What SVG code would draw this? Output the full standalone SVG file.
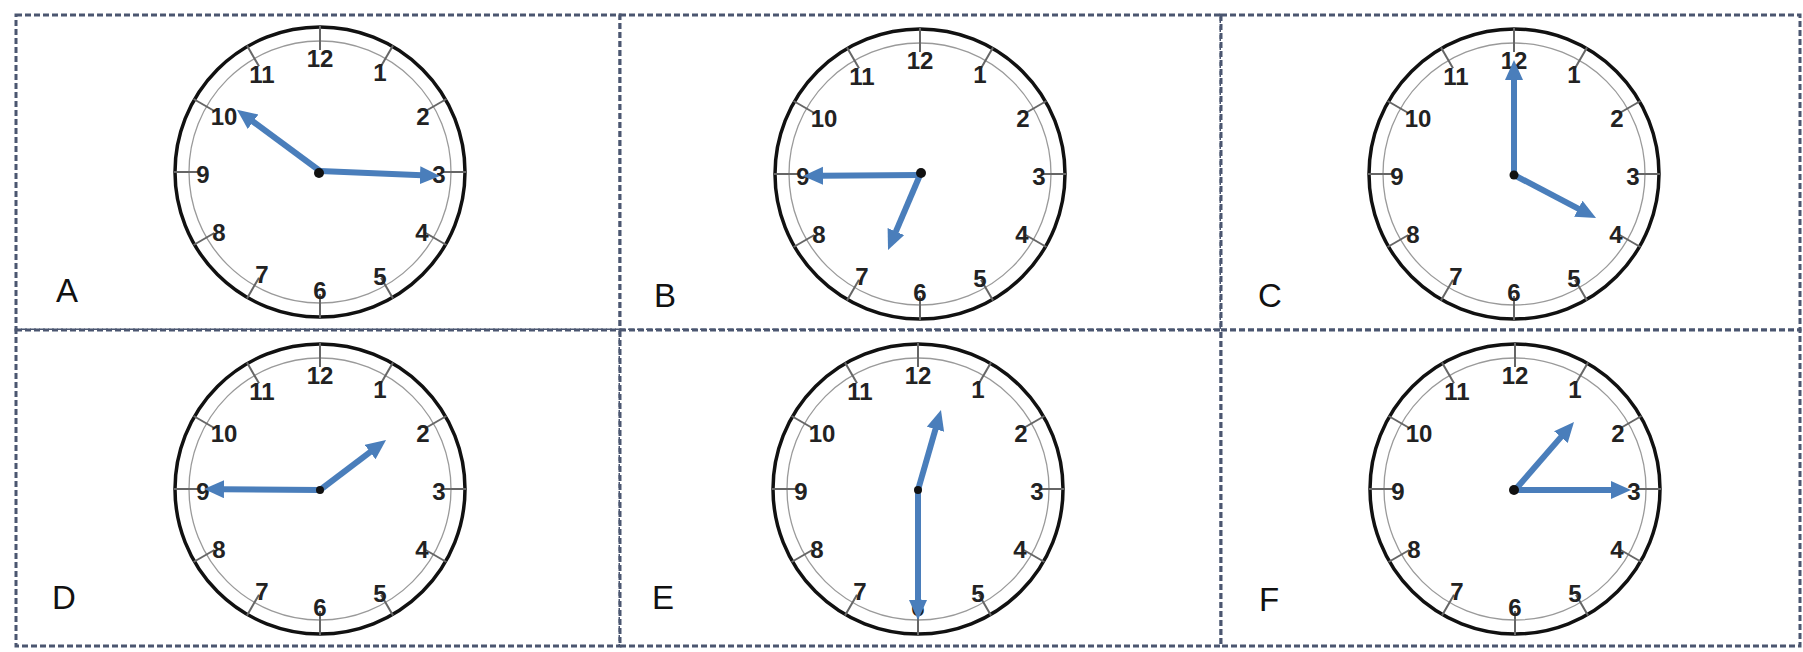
<svg xmlns="http://www.w3.org/2000/svg" xmlns:xlink="http://www.w3.org/1999/xlink" width="1803" height="652" viewBox="0 0 1803 652">
<style>
.panel{fill:#ffffff;stroke:#4b5670;stroke-width:3;stroke-dasharray:6 3}
.outer{fill:#ffffff;stroke:#111111;stroke-width:3.5}
.inner{fill:none;stroke:#9a9a9a;stroke-width:1.3}
.tick{stroke:#666666;stroke-width:2}
.num{font-family:"Liberation Sans",Arial,sans-serif;font-weight:bold;font-size:24px;fill:#222222;text-anchor:middle;dominant-baseline:central}
.lbl{font-family:"Liberation Sans",Arial,sans-serif;font-size:33px;fill:#111111}
.hand{stroke:#4a7ebb;stroke-width:6;fill:none;stroke-linecap:butt}
.pin{fill:#111111}
</style>
<defs>
<marker id="ah" markerUnits="userSpaceOnUse" markerWidth="22" markerHeight="20" refX="2" refY="9" orient="auto">
<path d="M0,0 L20,9 L0,18 z" fill="#4a7ebb"/>
</marker>
<g id="face">
<circle class="outer" r="145"/>
<circle class="inner" r="131"/>
<g class="tick">
<line x1="0" y1="-122" x2="0" y2="-146"/>
<line x1="0" y1="-122" x2="0" y2="-146" transform="rotate(30)"/>
<line x1="0" y1="-122" x2="0" y2="-146" transform="rotate(60)"/>
<line x1="0" y1="-122" x2="0" y2="-146" transform="rotate(90)"/>
<line x1="0" y1="-122" x2="0" y2="-146" transform="rotate(120)"/>
<line x1="0" y1="-122" x2="0" y2="-146" transform="rotate(150)"/>
<line x1="0" y1="-122" x2="0" y2="-146" transform="rotate(180)"/>
<line x1="0" y1="-122" x2="0" y2="-146" transform="rotate(210)"/>
<line x1="0" y1="-122" x2="0" y2="-146" transform="rotate(240)"/>
<line x1="0" y1="-122" x2="0" y2="-146" transform="rotate(270)"/>
<line x1="0" y1="-122" x2="0" y2="-146" transform="rotate(300)"/>
<line x1="0" y1="-122" x2="0" y2="-146" transform="rotate(330)"/>
</g>
</g>
</defs>
<rect width="1803" height="652" fill="#ffffff"/>

<g id="panels">
<rect class="panel" x="16" y="15" width="604" height="315"/>
<rect class="panel" x="620" y="15" width="601" height="315"/>
<rect class="panel" x="1221" y="15" width="579" height="315"/>
<rect class="panel" x="16" y="330" width="604" height="316"/>
<rect class="panel" x="620" y="330" width="601" height="316"/>
<rect class="panel" x="1221" y="330" width="579" height="316"/>
</g>

<g id="clock-A">
<use href="#face" x="320" y="172"/>
<g transform="translate(320,172)">
<text class="num" x="0" y="-114">12</text><text class="num" x="60" y="-100">1</text><text class="num" x="103" y="-56">2</text><text class="num" x="119" y="2">3</text><text class="num" x="102" y="60">4</text><text class="num" x="60" y="104">5</text><text class="num" x="0" y="118">6</text><text class="num" x="-58" y="102">7</text><text class="num" x="-101" y="60">8</text><text class="num" x="-117" y="2">9</text><text class="num" x="-96" y="-56">10</text><text class="num" x="-58" y="-98">11</text>
</g>
<text class="lbl" x="56" y="302">A</text>
</g>

<g id="clock-B">
<use href="#face" x="920" y="174"/>
<g transform="translate(920,174)">
<text class="num" x="0" y="-114">12</text><text class="num" x="60" y="-100">1</text><text class="num" x="103" y="-56">2</text><text class="num" x="119" y="2">3</text><text class="num" x="102" y="60">4</text><text class="num" x="60" y="104">5</text><text class="num" x="0" y="118">6</text><text class="num" x="-58" y="102">7</text><text class="num" x="-101" y="60">8</text><text class="num" x="-117" y="2">9</text><text class="num" x="-96" y="-56">10</text><text class="num" x="-58" y="-98">11</text>
</g>
<text class="lbl" x="654" y="307">B</text>
</g>

<g id="clock-C">
<use href="#face" x="1514" y="174"/>
<g transform="translate(1514,174)">
<text class="num" x="0" y="-114">12</text><text class="num" x="60" y="-100">1</text><text class="num" x="103" y="-56">2</text><text class="num" x="119" y="2">3</text><text class="num" x="102" y="60">4</text><text class="num" x="60" y="104">5</text><text class="num" x="0" y="118">6</text><text class="num" x="-58" y="102">7</text><text class="num" x="-101" y="60">8</text><text class="num" x="-117" y="2">9</text><text class="num" x="-96" y="-56">10</text><text class="num" x="-58" y="-98">11</text>
</g>
<text class="lbl" x="1258" y="307">C</text>
</g>

<g id="clock-D">
<use href="#face" x="320" y="489"/>
<g transform="translate(320,489)">
<text class="num" x="0" y="-114">12</text><text class="num" x="60" y="-100">1</text><text class="num" x="103" y="-56">2</text><text class="num" x="119" y="2">3</text><text class="num" x="102" y="60">4</text><text class="num" x="60" y="104">5</text><text class="num" x="0" y="118">6</text><text class="num" x="-58" y="102">7</text><text class="num" x="-101" y="60">8</text><text class="num" x="-117" y="2">9</text><text class="num" x="-96" y="-56">10</text><text class="num" x="-58" y="-98">11</text>
</g>
<text class="lbl" x="52" y="609">D</text>
</g>

<g id="clock-E">
<use href="#face" x="918" y="489"/>
<g transform="translate(918,489)">
<text class="num" x="0" y="-114">12</text><text class="num" x="60" y="-100">1</text><text class="num" x="103" y="-56">2</text><text class="num" x="119" y="2">3</text><text class="num" x="102" y="60">4</text><text class="num" x="60" y="104">5</text><text class="num" x="0" y="118">6</text><text class="num" x="-58" y="102">7</text><text class="num" x="-101" y="60">8</text><text class="num" x="-117" y="2">9</text><text class="num" x="-96" y="-56">10</text><text class="num" x="-58" y="-98">11</text>
</g>
<text class="lbl" x="652" y="609">E</text>
</g>

<g id="clock-F">
<use href="#face" x="1515" y="489"/>
<g transform="translate(1515,489)">
<text class="num" x="0" y="-114">12</text><text class="num" x="60" y="-100">1</text><text class="num" x="103" y="-56">2</text><text class="num" x="119" y="2">3</text><text class="num" x="102" y="60">4</text><text class="num" x="60" y="104">5</text><text class="num" x="0" y="118">6</text><text class="num" x="-58" y="102">7</text><text class="num" x="-101" y="60">8</text><text class="num" x="-117" y="2">9</text><text class="num" x="-96" y="-56">10</text><text class="num" x="-58" y="-98">11</text>
</g>
<text class="lbl" x="1259" y="611">F</text>
</g>

<g id="hands">
<line class="hand" x1="320" y1="171" x2="422" y2="175.2" marker-end="url(#ah)"/>
<line class="hand" x1="320" y1="171" x2="251.5" y2="120.5" marker-end="url(#ah)"/>
<circle class="pin" cx="319" cy="173" r="5"/>

<line class="hand" x1="920" y1="175" x2="821" y2="175.8" marker-end="url(#ah)"/>
<line class="hand" x1="920" y1="175" x2="895.1" y2="233.4" marker-end="url(#ah)"/>
<circle class="pin" cx="921" cy="173" r="5"/>

<line class="hand" x1="1514" y1="175" x2="1514" y2="78" marker-end="url(#ah)"/>
<line class="hand" x1="1514" y1="175" x2="1580.1" y2="209.6" marker-end="url(#ah)"/>
<circle class="pin" cx="1514" cy="175" r="4.5"/>

<line class="hand" x1="320" y1="490" x2="222" y2="489.2" marker-end="url(#ah)"/>
<line class="hand" x1="320" y1="490" x2="371.7" y2="450.9" marker-end="url(#ah)"/>
<circle class="pin" cx="320" cy="490" r="4"/>

<line class="hand" x1="918" y1="490" x2="918" y2="602" marker-end="url(#ah)"/>
<line class="hand" x1="918" y1="490" x2="936" y2="427.3" marker-end="url(#ah)"/>
<circle class="pin" cx="918" cy="490" r="4"/>

<line class="hand" x1="1515" y1="490" x2="1613" y2="490" marker-end="url(#ah)"/>
<line class="hand" x1="1515" y1="490" x2="1562.2" y2="435.6" marker-end="url(#ah)"/>
<circle class="pin" cx="1514" cy="490" r="5"/>
</g>
</svg>
